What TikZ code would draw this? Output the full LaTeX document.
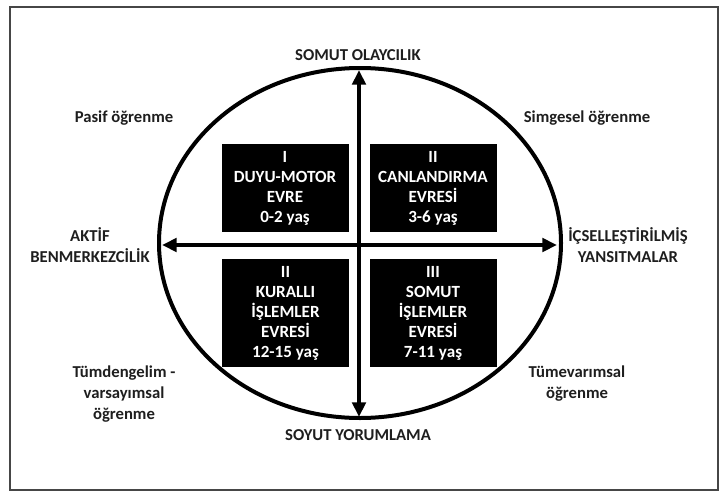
\documentclass[tikz,border=0pt]{standalone}
\usepackage{fontspec}
\setmainfont{Carlito}
\usetikzlibrary{arrows.meta}
\tikzset{every picture/.style={line width=0.75pt}}
\tikzset{
  stagebox/.style={fill=black, text=white, font=\fontsize{12.8}{15}\selectfont\bfseries, align=center, inner sep=0pt, minimum width=95.25pt},
  sidetext/.style={font=\fontsize{12.5}{15.5}\selectfont\bfseries, align=center, inner sep=0.75pt, text={rgb,255:red,30;green,30;blue,30}},
  axis/.style={line width=3, {Triangle[length=11pt,width=10pt]}-{Triangle[length=11pt,width=10pt]}}
}

\begin{document}
\begin{tikzpicture}[x=0.75pt,y=0.75pt,yscale=-1,xscale=1]
\useasboundingbox (0,0) rectangle (724,493);
%Shape: Rectangle [id:frame] 
\draw [color={rgb, 255:red, 70; green, 70; blue, 70 }, line width=1.1] (10,7) rectangle (718,490);
%Shape: Ellipse [id:oval] 
\draw [line width=3] (360,243) ellipse (201 and 175);

% Axis ends
\coordinate (top) at (359,70);
\coordinate (bot) at (359,417);
\coordinate (lft) at (162,245);
\coordinate (rgt) at (557,245);
\draw [axis] (top) -- (bot);
\draw [axis] (lft) -- (rgt);

% Stage boxes
\node (duyu) [stagebox, minimum height=66pt] at (285,188) {I\\DUYU-MOTOR\\EVRE\\0-2 yaş};
\node (canlan) [stagebox, minimum height=66pt] at (433,188) {II\\CANLANDIRMA\\EVRESİ\\3-6 yaş};
\node (kurali) [stagebox, minimum height=81pt] at (285.5,313) {II\\KURALLI\\İŞLEMLER\\EVRESİ\\12-15 yaş};
\node (somut) [stagebox, minimum height=81pt] at (433,313) {III\\SOMUT\\İŞLEMLER\\EVRESİ\\7-11 yaş};

% Text Node
\node (olay) [sidetext] at (358,55) {SOMUT OLAYCILIK};
% Text Node
\node (yorum) [sidetext] at (358,435) {SOYUT YORUMLAMA};
% Text Node
\node (aktif) [sidetext] at (90,245) {AKTİF\\BENMERKEZCİLİK};
% Text Node
\node (icsel) [sidetext] at (628,245) {İÇSELLEŞTİRİLMİŞ\\YANSITMALAR};
% Text Node
\node (pasif) [sidetext] at (124,118) {Pasif öğrenme};
% Text Node
\node (simge) [sidetext] at (587,118) {Simgesel öğrenme};
% Text Node
\node (tumden) [sidetext] at (124,394) {Tümdengelim -\\varsayımsal\\öğrenme};
% Text Node
\node (tumeva) [sidetext] at (577,383.5) {Tümevarımsal\\öğrenme};
\end{tikzpicture}
\end{document}
